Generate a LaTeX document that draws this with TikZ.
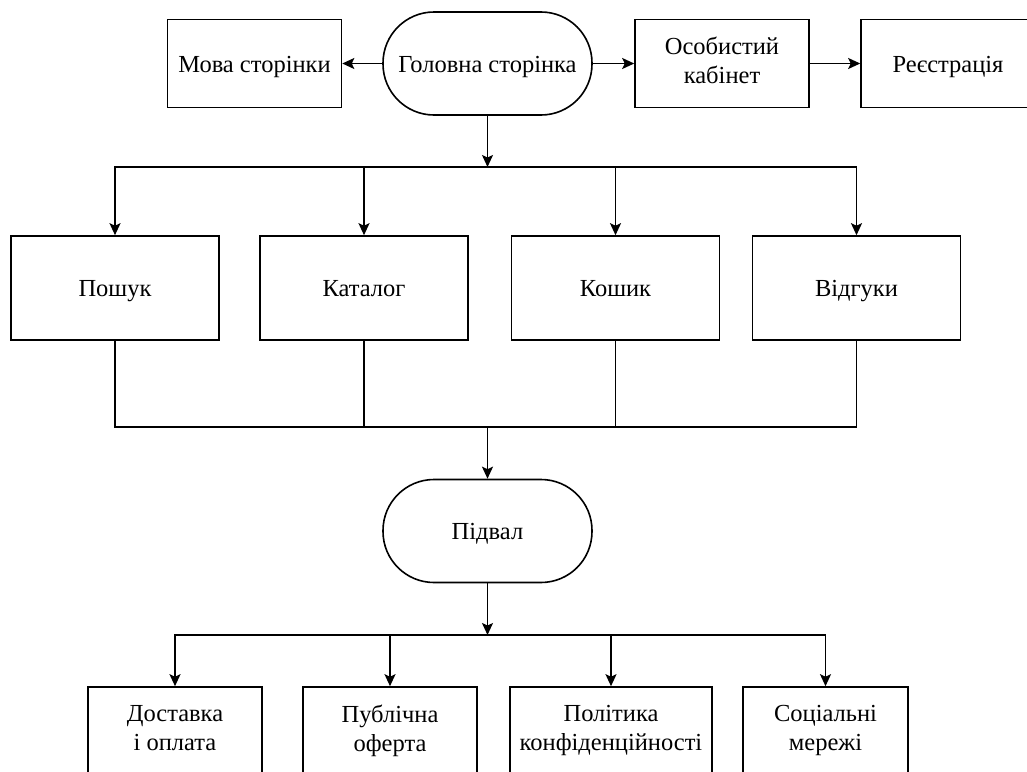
\documentclass[tikz,border=0pt]{standalone}
\usepackage{fontspec}
\setmainfont{Liberation Serif}
\usetikzlibrary{arrows.meta}
\newcommand{\mystrut}{\rule[-5.7pt]{0pt}{29pt}}
\newcommand{\linebrk}{\\\mystrut}
\begin{document}
\begin{tikzpicture}[x=1pt,y=-1pt,
  every node/.style={font=\fontsize{24.5}{29}\selectfont, align=center, inner sep=0pt, execute at begin node=\mystrut},
  box/.style={draw, line width=1.6pt, rectangle, minimum width=174pt, minimum height=88pt},
  bigbox/.style={draw, line width=1.6pt, rectangle, minimum width=208pt, minimum height=104pt},
  term/.style={draw, line width=1.6pt, rectangle, rounded corners=51pt, minimum width=209pt, minimum height=103pt},
  conn/.style={line width=1.6pt},
  arr/.style={line width=1.6pt, -{Stealth[length=12pt,width=11pt,inset=2.5pt]}}]
\useasboundingbox (0,0) rectangle (1027,771);
\clip (0,0) rectangle (1027,771);
% top row
\node[term] (main) at (487.5,63.5) {Головна сторінка};
\node[box] (lang) at (254.5,63.5) {Мова сторінки};
\node[box] (cab) at (722,63.5) {Особистий\linebrk кабінет};
\node[box] (reg) at (948,63.5) {Реєстрація};
% middle row
\node[bigbox] (search) at (115,288) {Пошук};
\node[bigbox] (cat) at (364,288) {Каталог};
\node[bigbox] (cart) at (615.5,288) {Кошик};
\node[bigbox] (rev) at (856.5,288) {Відгуки};
% footer
\node[term] (foot) at (487.5,531) {Підвал};
% bottom row
\node[box] (deliv) at (175,731) {Доставка\linebrk і оплата};
\node[box] (offer) at (390,731) {Публічна\linebrk оферта};
\node[box, minimum width=202pt] (policy) at (611,731) {Політика\linebrk конфіденційності};
\node[box, minimum width=165pt] (social) at (825.5,731) {Соціальні\linebrk мережі};
% junctions
\coordinate (j1) at (487.5,167);
\coordinate (j2) at (487.5,427);
\coordinate (j3) at (487.5,635);
% connectors
\draw[arr] (main) -- (lang);
\draw[arr] (main) -- (cab);
\draw[arr] (cab) -- (reg);
\draw[arr] (main) -- (j1);
\draw[arr] (j1) -| (search.north);
\draw[arr] (j1) -| (cat.north);
\draw[arr] (j1) -| (cart.north);
\draw[arr] (j1) -| (rev.north);
\draw[conn] (search.south) |- (j2);
\draw[conn] (cat.south) |- (j2);
\draw[conn] (cart.south) |- (j2);
\draw[conn] (rev.south) |- (j2);
\draw[arr] (j2) -- (foot);
\draw[arr] (foot) -- (j3);
\draw[arr] (j3) -| (deliv.north);
\draw[arr] (j3) -| (offer.north);
\draw[arr] (j3) -| (policy.north);
\draw[arr] (j3) -| (social.north);
\end{tikzpicture}
\end{document}
